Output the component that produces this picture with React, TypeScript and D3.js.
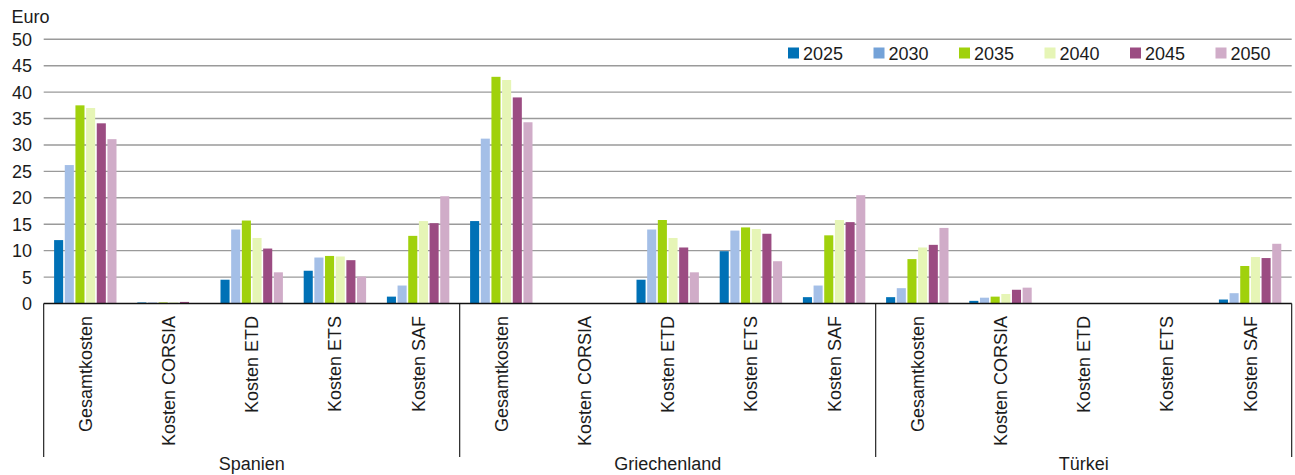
import React from "react";
import * as d3 from "d3";

// Cost components per country, in euro
const countries = ["Spanien", "Griechenland", "Türkei"];
const costTypes = ["Gesamtkosten", "Kosten CORSIA", "Kosten ETD", "Kosten ETS", "Kosten SAF"];
const years = ["2025", "2030", "2035", "2040", "2045", "2050"];

// One value per country × cost type (Spanien, Griechenland, Türkei, each in costTypes order)
const v2025 = [12.0, 0.2, 4.5, 6.2, 1.3, 15.6, 0, 4.5, 9.9, 1.2, 1.2, 0.5, 0, 0, 0.75];
const v2030 = [26.2, 0.2, 14.0, 8.7, 3.4, 31.2, 0, 14.0, 13.8, 3.4, 2.9, 1.1, 0, 0, 1.95];
const v2035 = [37.5, 0.2, 15.7, 9.0, 12.8, 42.9, 0, 15.8, 14.4, 12.9, 8.4, 1.3, 0, 0, 7.1];
const v2040 = [37.0, 0.2, 12.4, 8.9, 15.6, 42.3, 0, 12.4, 14.1, 15.8, 10.6, 1.8, 0, 0, 8.8];
const v2045 = [34.1, 0.3, 10.4, 8.2, 15.2, 39.0, 0, 10.6, 13.2, 15.4, 11.1, 2.6, 0, 0, 8.6];
const v2050 = [31.1, 0.1, 5.9, 5.1, 20.3, 34.3, 0, 5.9, 8.0, 20.5, 14.3, 3.0, 0, 0, 11.3];

const yTicks = [0, 5, 10, 15, 20, 25, 30, 35, 40, 45, 50];
const barColors = ["#0071b6", "#a4bfe7", "#a0d10c", "#e6f5b6", "#9b4c82", "#d0acc8"];
const swatchColors = ["#0071b6", "#74a2d8", "#a0d10c", "#e6f5b6", "#9b4c82", "#d0acc8"];

const seriesValues = [v2025, v2030, v2035, v2040, v2045, v2050];

const W = 1295;
const H = 475;
const FONT = "'Liberation Sans', Arial, Helvetica, sans-serif";
const TEXT = "#1c1c1c";

export default function App() {
  const left = 43.7;
  const right = 1291.7;
  const y0 = 303.5;
  const yTop = 39.3;

  const categories = countries.flatMap((c) => costTypes.map((t) => `${c}|${t}`));

  const x = d3.scaleBand<string>().domain(categories).range([left, right]).padding(0);
  const xInner = d3
    .scaleBand<string>()
    .domain(years)
    .range([0, x.bandwidth()])
    .paddingInner(0)
    .paddingOuter(0.9);
  const y = d3.scaleLinear().domain([0, 50]).range([y0, yTop]);

  const groupWidth = x.bandwidth() * costTypes.length;
  const separators = d3.range(countries.length + 1).map((i) => left + i * groupWidth);

  const legendStart = 788;
  const legendStep = 85.5;

  return (
    <svg
      width={W}
      height={H}
      style={{ position: "absolute", left: 0, top: 0, display: "block", background: "#fff" }}
      fontFamily={FONT}
    >
      {/* gridlines */}
      {yTicks
        .filter((t) => t > 0)
        .map((t) => (
          <line key={t} x1={left} x2={right} y1={y(t)} y2={y(t)} stroke="#9a9a9a" strokeWidth={1.4} />
        ))}

      {/* y tick labels */}
      {yTicks.map((t) => (
        <text
          key={t}
          x={32}
          y={y(t)}
          dy="0.36em"
          textAnchor="end"
          fontSize={18}
          fill={TEXT}
        >
          {t}
        </text>
      ))}
      <text x={11.5} y={23} fontSize={18} fill={TEXT}>
        Euro
      </text>

      {/* bars */}
      {categories.map((cat, ci) => (
        <g key={cat} transform={`translate(${x(cat)},0)`}>
          {years.map((yr, si) => {
            const v = seriesValues[si][ci];
            if (!v) return null;
            const bx = xInner(yr) as number;
            const bw = xInner.bandwidth();
            return (
              <rect
                key={yr}
                x={bx + 0.8}
                y={y(v)}
                width={bw - 1.6}
                height={y0 - y(v)}
                fill={barColors[si]}
              />
            );
          })}
        </g>
      ))}

      {/* baseline */}
      <line x1={left} x2={right} y1={y0} y2={y0} stroke="#111" strokeWidth={1.4} />

      {/* group separators */}
      {separators.map((sx, i) => (
        <line key={i} x1={sx} x2={sx} y1={y0} y2={457} stroke="#111" strokeWidth={1.1} />
      ))}

      {/* category labels */}
      {categories.map((cat) => {
        const cx = (x(cat) as number) + x.bandwidth() / 2;
        const label = cat.split("|")[1];
        return (
          <text
            key={cat}
            transform={`translate(${cx},316) rotate(-90)`}
            dy="0.36em"
            textAnchor="end"
            fontSize={18}
            fill={TEXT}
          >
            {label}
          </text>
        );
      })}

      {/* country labels */}
      {countries.map((c, i) => (
        <text
          key={c}
          x={left + (i + 0.5) * groupWidth}
          y={470}
          textAnchor="middle"
          fontSize={18}
          fill={TEXT}
        >
          {c}
        </text>
      ))}

      {/* legend */}
      {years.map((yr, i) => {
        const lx = legendStart + i * legendStep;
        return (
          <g key={yr}>
            <rect x={lx} y={47.5} width={11} height={11} fill={swatchColors[i]} />
            <text x={lx + 15} y={59.5} fontSize={18} fill={TEXT}>
              {yr}
            </text>
          </g>
        );
      })}
    </svg>
  );
}
